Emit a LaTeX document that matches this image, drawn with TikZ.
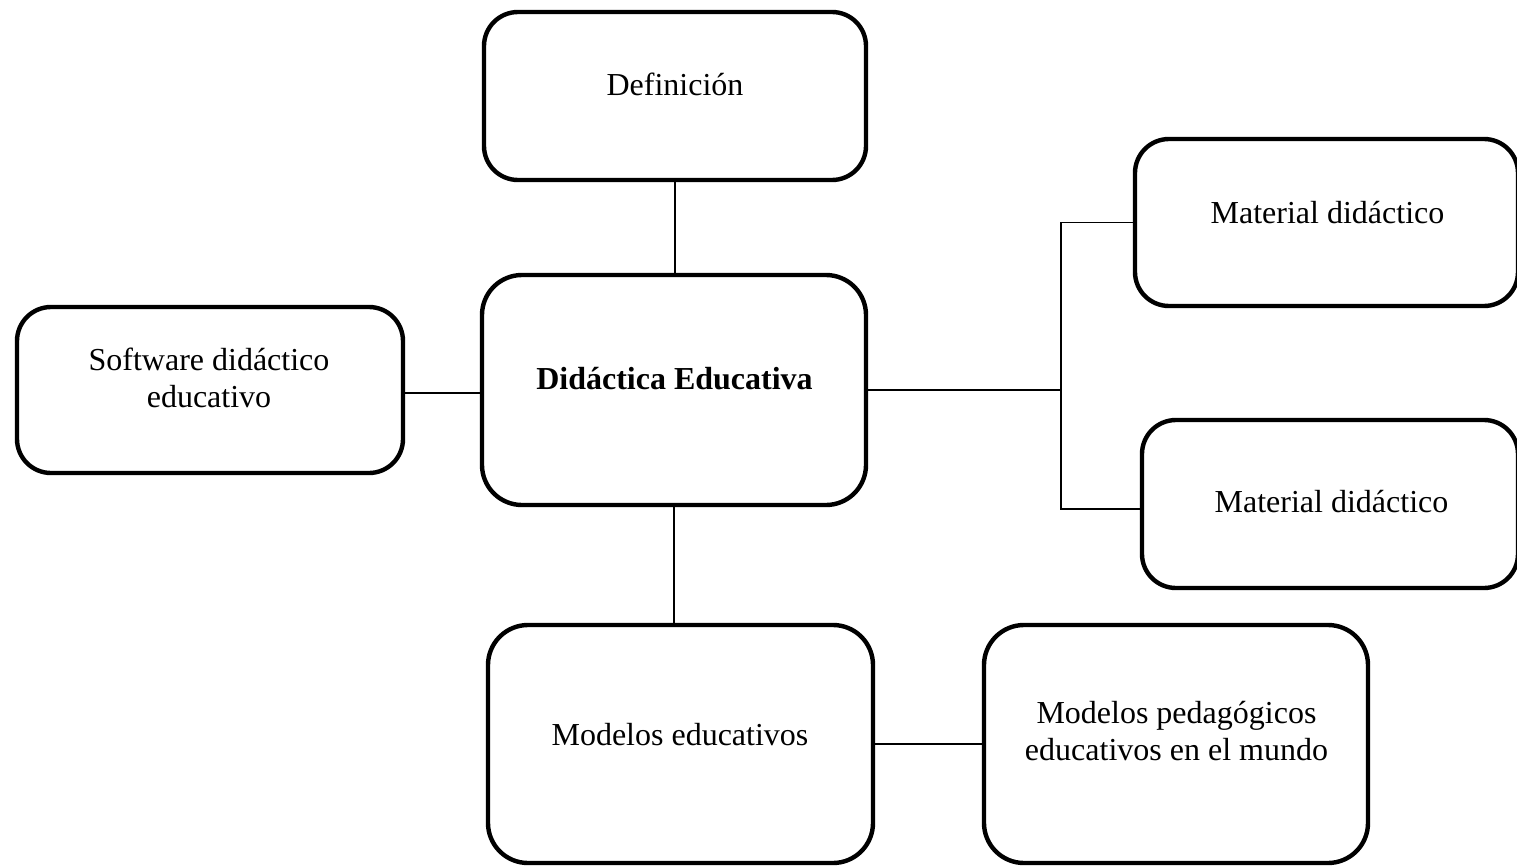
\documentclass[tikz,border=0pt]{standalone}
\usepackage{fontspec}
\setmainfont{Liberation Serif}
\definecolor{tinta}{HTML}{000000}
\tikzset{
  caja/.style={draw=tinta,fill=white,line width=2.2pt,rounded corners=17pt,inner sep=0pt},
  cajagrande/.style={caja,rounded corners=20pt},
  texto/.style={inner sep=0pt,align=center,text=tinta,font=\fontsize{16}{18.25}\selectfont},
  enlace/.style={draw=tinta,line width=0.9pt},
}
\begin{document}
\begin{tikzpicture}[x=0.5pt,y=-0.5pt]
\useasboundingbox (0,0) rectangle (1517,867);
\coordinate (c1) at (675,96);
\coordinate (c2) at (674,390);
\coordinate (c3) at (210,390);
\coordinate (c4) at (1326.5,222.5);
\coordinate (c5) at (1330,504);
\coordinate (c6) at (680.5,744);
\coordinate (c7) at (1176,744);
\coordinate (rama) at (1061,390);
\node[caja,minimum width=191pt,minimum height=84pt] (def) at (c1) {};
\node[texto,anchor=base] (tdef) at (675,95) {Definición};
\node[cajagrande,minimum width=192pt,minimum height=115pt] (dida) at (c2) {};
\node[texto,anchor=base,font=\fontsize{16}{18.25}\selectfont\bfseries] (tdida) at (674.5,389) {Didáctica Educativa};
\node[caja,minimum width=193pt,minimum height=83pt] (soft) at (c3) {};
\node[texto,anchor=base] (tsoft) at (209,407) {Software didáctico\\educativo};
\node[caja,minimum width=191.5pt,minimum height=83.5pt] (mat1) at (c4) {};
\node[texto,anchor=base] (tmat1) at (1327.5,223) {Material didáctico};
\node[caja,minimum width=188pt,minimum height=84pt] (mat2) at (c5) {};
\node[texto,anchor=base] (tmat2) at (1331.5,512) {Material didáctico};
\node[cajagrande,minimum width=192.5pt,minimum height=119pt] (modedu) at (c6) {};
\node[texto,anchor=base] (tmodedu) at (680,745) {Modelos educativos};
\node[cajagrande,minimum width=192pt,minimum height=119pt] (modped) at (c7) {};
\node[texto,anchor=base] (tmodped) at (1176.5,760) {Modelos pedagógicos\\educativos en el mundo};
\draw[enlace] (def.south) -- (def.south |- dida.north);
\draw[enlace] ([yshift=-1.5pt]soft.east) -- ([yshift=-1.5pt]soft.east -| dida.west);
\draw[enlace] (dida.east) -- (rama);
\draw[enlace] (mat1.west) -| (rama) |- ([yshift=-2.5pt]mat2.west);
\draw[enlace] (dida.south) -- (dida.south |- modedu.north);
\draw[enlace] (modedu) -- (modped);
\end{tikzpicture}
\end{document}
